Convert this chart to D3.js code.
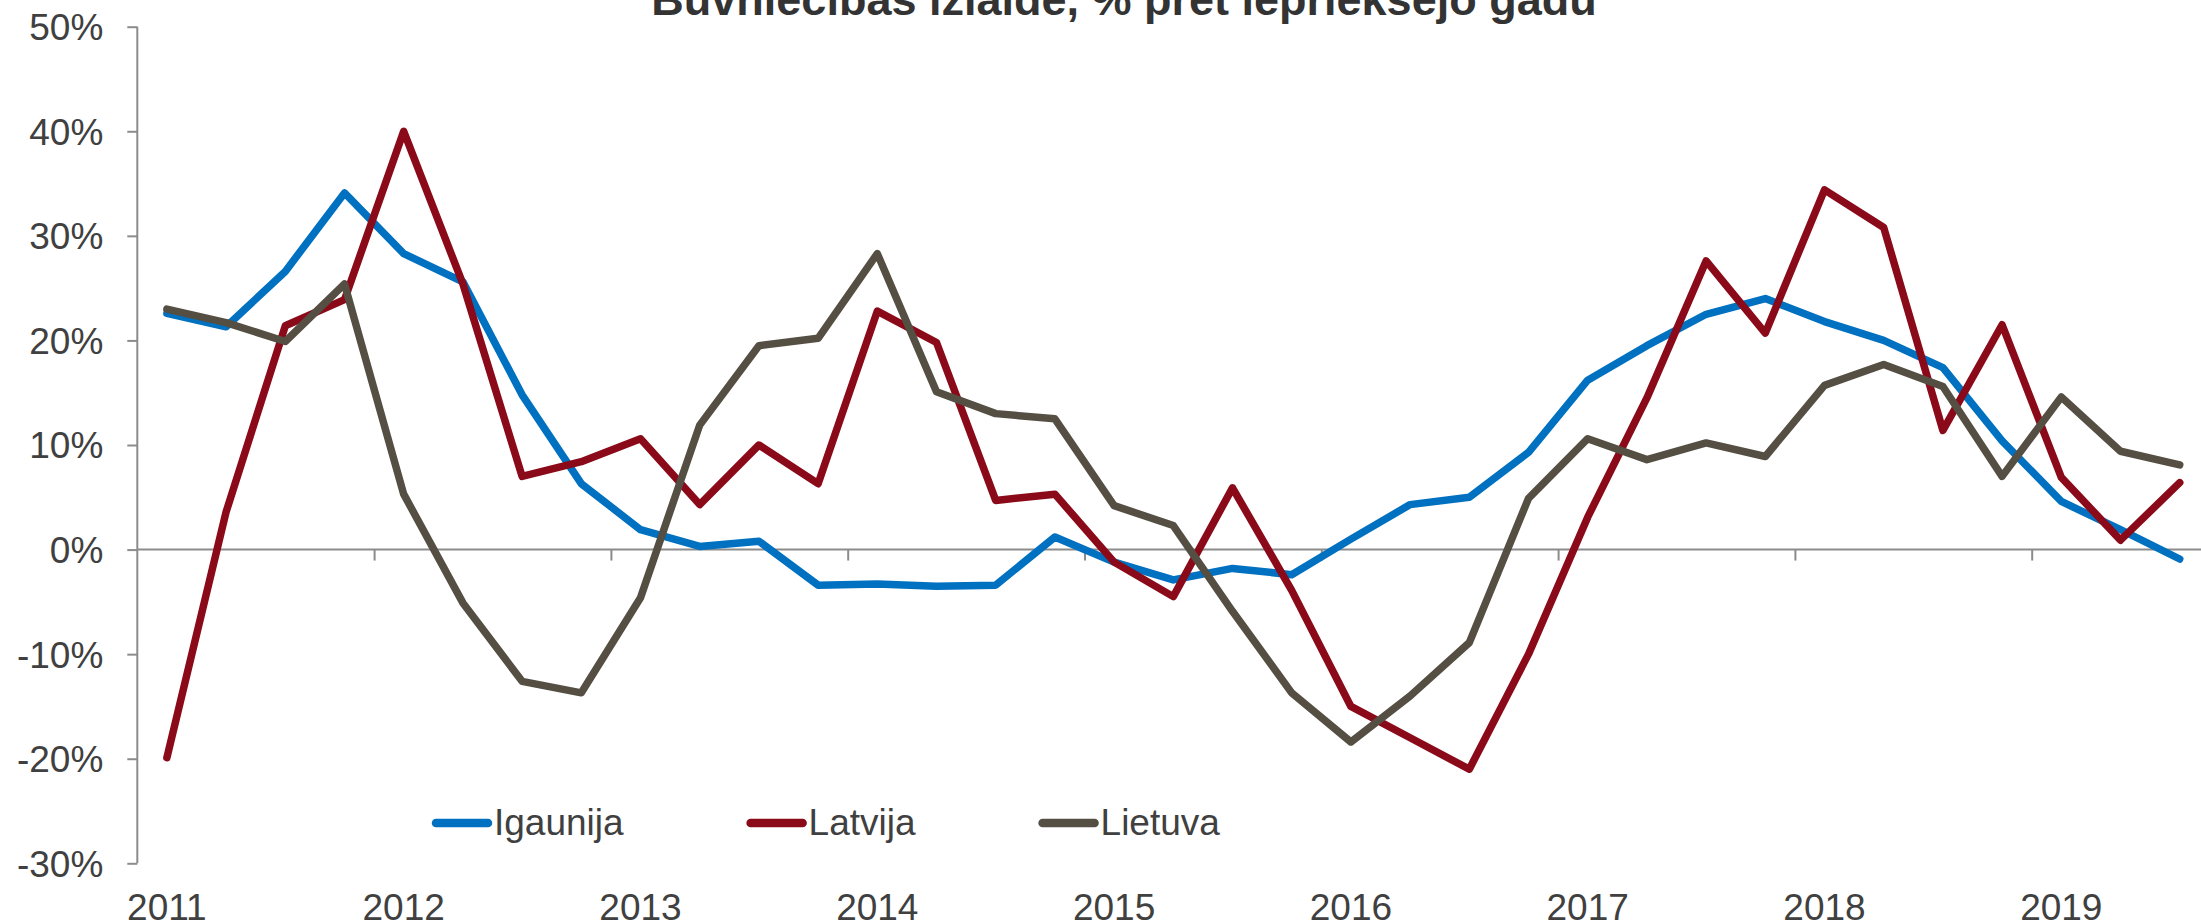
<!DOCTYPE html>
<html>
<head>
<meta charset="utf-8">
<script src="https://cdn.jsdelivr.net/npm/d3@7"></script>
<style>
  body { margin: 0; background: #fff; }
  svg { display: block; font-family: "Liberation Sans", Arial, sans-serif; }
</style>
</head>
<body>
<div id="chart"></div>
<script>
// Būvniecības izlaide, % pret iepriekšējo gadu (quarterly, 2011Q1 - 2019Q3)
const years = ["2011", "2012", "2013", "2014", "2015", "2016", "2017", "2018", "2019"];
const quarters = [];
years.forEach(y => ["Q1", "Q2", "Q3", "Q4"].forEach(q => quarters.push(y + q)));
quarters.length = 35;

const igaunija = [22.6, 21.3, 26.6, 34.1, 28.3, 25.6, 14.8, 6.3, 1.9, 0.3, 0.8, -3.4,
  -3.3, -3.5, -3.4, 1.2, -1.2, -2.9, -1.8, -2.4, 1.0, 4.3, 5.0, 9.3,
  16.2, 19.5, 22.5, 24.0, 21.8, 20.0, 17.4, 10.4, 4.6, 1.9, -0.9];
const latvija = [-19.9, 3.6, 21.4, 23.9, 40.0, 25.4, 7.0, 8.4, 10.6, 4.3, 10.0, 6.3,
  22.8, 19.8, 4.7, 5.3, -1.2, -4.5, 5.9, -3.9, -15.0, -18.0, -21.0, -10.0,
  3.1, 14.5, 27.6, 20.7, 34.4, 30.8, 11.4, 21.5, 6.9, 0.9, 6.4];
const lietuva = [23.0, 21.7, 19.9, 25.4, 5.3, -5.1, -12.6, -13.7, -4.6, 11.9, 19.5, 20.2,
  28.3, 15.1, 13.0, 12.5, 4.2, 2.3, -5.9, -13.7, -18.4, -14.0, -8.9, 4.9,
  10.6, 8.6, 10.2, 8.9, 15.7, 17.7, 15.6, 7.0, 14.6, 9.4, 8.1];

const seriesNames = ["Igaunija", "Latvija", "Lietuva"];
const seriesColors = ["#0070C0", "#8B0A19", "#554E43"];
const yTicks = [-30, -20, -10, 0, 10, 20, 30, 40, 50];

const series = [igaunija, latvija, lietuva].map((vals, i) => ({
  name: seriesNames[i], color: seriesColors[i],
  values: vals.map((v, j) => ({ q: quarters[j], v: v }))
}));

const W = 2201, H = 924;
const textColor = "#404040", axisColor = "#8C8C8C";

const svg = d3.select("#chart").append("svg")
  .attr("width", W)
  .attr("height", H);

// scales (plot area runs slightly past the right edge, as in the original)
const x = d3.scaleBand()
  .domain(quarters)
  .range([137.3, 137.3 + 35 * 59.2]);

const y = d3.scaleLinear()
  .domain([-30, 50])
  .range([863.3, 26.7]);

const cx = q => x(q) + x.bandwidth() / 2;

// title
svg.append("text")
  .attr("x", 1124)
  .attr("y", 15)
  .attr("text-anchor", "middle")
  .style("font-size", "45px")
  .style("font-weight", "bold")
  .attr("fill", "#333333")
  .text("Būvniecības izlaide, % pret iepriekšējo gadu");

// y axis
const yAxis = svg.append("g")
  .attr("transform", "translate(137.3,0)")
  .call(d3.axisLeft(y).tickValues(yTicks).tickSize(10).tickPadding(24)
    .tickFormat(d => d + "%"));
yAxis.select(".domain").attr("stroke", axisColor).attr("stroke-width", 2)
  .attr("d", `M0,${y(-30)}V${y(50)}`);
yAxis.selectAll(".tick line").attr("stroke", axisColor).attr("stroke-width", 2);
yAxis.selectAll(".tick text")
  .attr("fill", textColor)
  .style("font-size", "37px")
  .attr("dy", "0.35em");

// x axis on the zero line, tick marks between years
const xb = d3.scaleLinear().domain([0, 35]).range(x.range());
const xAxis = svg.append("g")
  .attr("transform", `translate(0,${y(0)})`)
  .call(d3.axisBottom(xb).tickValues([4, 8, 12, 16, 20, 24, 28, 32]).tickSize(11).tickFormat(""));
xAxis.select(".domain").attr("stroke", axisColor).attr("stroke-width", 2)
  .attr("d", `M${x.range()[0]},0H${x.range()[1]}`);
xAxis.selectAll(".tick line").attr("stroke", axisColor).attr("stroke-width", 2);

// year labels at the bottom
svg.append("g").selectAll("text")
  .data(years)
  .enter().append("text")
  .attr("x", d => cx(d + "Q1"))
  .attr("y", 920)
  .attr("text-anchor", "middle")
  .attr("fill", textColor)
  .style("font-size", "37px")
  .text(d => d);

// lines
const line = d3.line()
  .x(d => cx(d.q))
  .y(d => y(d.v));

svg.append("g").selectAll("path")
  .data(series)
  .enter().append("path")
  .attr("d", d => line(d.values))
  .attr("fill", "none")
  .attr("stroke", d => d.color)
  .attr("stroke-width", 7.5)
  .attr("stroke-linejoin", "round")
  .attr("stroke-linecap", "round");

// legend
const legend = svg.append("g");
let lx = 432;
series.forEach(s => {
  legend.append("line")
    .attr("x1", lx + 4).attr("x2", lx + 56)
    .attr("y1", 823).attr("y2", 823)
    .attr("stroke", s.color)
    .attr("stroke-width", 8.5)
    .attr("stroke-linecap", "round");
  const t = legend.append("text")
    .attr("x", lx + 62)
    .attr("y", 835)
    .attr("fill", textColor)
    .style("font-size", "37px")
    .text(s.name);
  lx += 62 + t.node().getComputedTextLength() + 123;
});
</script>
</body>
</html>
